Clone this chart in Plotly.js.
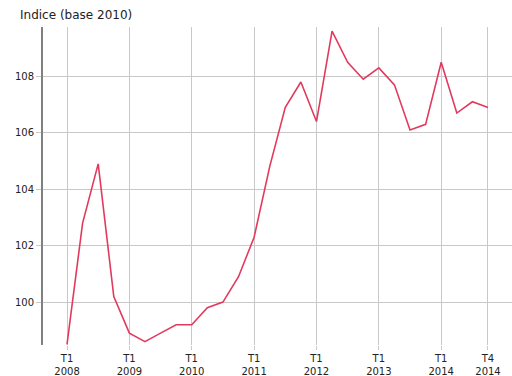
<!DOCTYPE html>
<html>
<head>
<meta charset="utf-8">
<script src="https://cdn.plot.ly/plotly-3.0.1.min.js"></script>
<style>html,body{margin:0;padding:0;background:#fff;}#chart{width:512px;height:376px;}</style>
</head>
<body>
<div id="chart"></div>
<script>
const quarters = ["T1 2008","T2 2008","T3 2008","T4 2008","T1 2009","T2 2009","T3 2009","T4 2009","T1 2010","T2 2010","T3 2010","T4 2010","T1 2011","T2 2011","T3 2011","T4 2011","T1 2012","T2 2012","T3 2012","T4 2012","T1 2013","T2 2013","T3 2013","T4 2013","T1 2014","T2 2014","T3 2014","T4 2014"];
const indexValues = [98.5,102.8,104.9,100.2,98.9,98.6,98.9,99.2,99.2,99.8,100.0,100.9,102.3,104.8,106.9,107.8,106.4,109.6,108.5,107.9,108.3,107.7,106.1,106.3,108.5,106.7,107.1,106.9];
const tickPositions = ["T1 2008","T1 2009","T1 2010","T1 2011","T1 2012","T1 2013","T1 2014","T4 2014"];
const tickLabels = ["T1<br>2008","T1<br>2009","T1<br>2010","T1<br>2011","T1<br>2012","T1<br>2013","T1<br>2014","T4<br>2014"];
const yTitle = "Indice (base 2010)";

const xs = quarters.map((q,i)=>i);
const tickvals = tickPositions.map(t=>quarters.indexOf(t));

const font = "DejaVu Sans, Verdana, sans-serif";
Plotly.newPlot("chart", [{
  x: xs, y: indexValues, type: "scatter", mode: "lines",
  line: {color: "#e23a5e", width: 1.6},
  hoverinfo: "skip"
}], {
  width: 512, height: 376,
  margin: {l: 43, r: 0, t: 27, b: 31, pad: 0},
  paper_bgcolor: "#fff", plot_bgcolor: "#fff",
  showlegend: false,
  font: {family: font, size: 10, color: "#222"},
  xaxis: {
    range: [-1.54, 28.54], tickmode: "array", tickvals: tickvals, ticktext: tickLabels,
    showgrid: true, gridcolor: "#c8c8c8", gridwidth: 1,
    ticks: "outside", ticklen: 4, tickcolor: "#c8c8c8", tickwidth: 1,
    showline: false, zeroline: false, tickfont: {family: font, size: 10, color: "#222"},
    fixedrange: true
  },
  yaxis: {
    range: [98.48, 109.75], tickmode: "array", tickvals: [100,102,104,106,108],
    showgrid: true, gridcolor: "#c8c8c8", gridwidth: 1,
    ticks: "outside", ticklen: 5, tickcolor: "#c8c8c8", tickwidth: 1,
    showline: true, linecolor: "#808080", linewidth: 2,
    zeroline: false, tickfont: {family: font, size: 10, color: "#222"},
    fixedrange: true
  },
  annotations: [{
    text: yTitle, xref: "paper", yref: "paper", x: 0, y: 1, xanchor: "left", yanchor: "bottom",
    xshift: -25, yshift: 3, showarrow: false, font: {family: font, size: 12, color: "#222"}
  }]
}, {displayModeBar: false, staticPlot: true});
</script>
</body>
</html>
